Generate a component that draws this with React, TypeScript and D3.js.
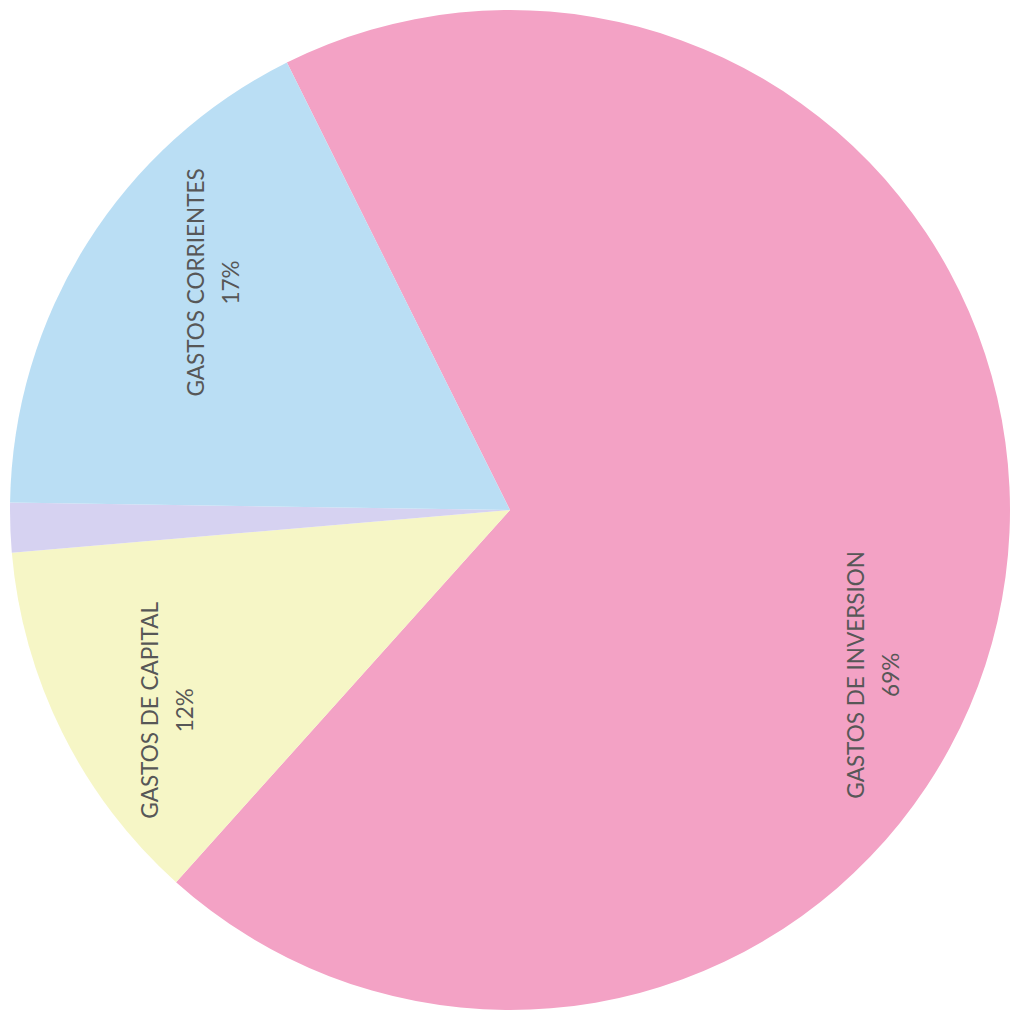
import React from "react";
import * as d3 from "d3";

// Budget breakdown by spending type (percent of total)
const categories = ["GASTOS DE INVERSION", "GASTOS DE CAPITAL", "OTROS", "GASTOS CORRIENTES"];
const values = [69.0, 12.0, 1.6, 17.4];
const colors = ["#F3A2C5", "#F6F6C6", "#D6D2F1", "#BADEF4"];
// which slices carry a label, and where the label sits relative to the slice middle
const showLabel = [true, true, false, true];
const labelAngleShift = [16.7, -3.8, 0, 5.3]; // degrees
const labelRadius = [399, 397, 0, 374];

const W = 1013;
const H = 1014;
const cx = 510;
const cy = 510;
const R = 500;
const startDeg = -26.5;

export default function App() {
  const total = d3.sum(values);
  const pie = d3
    .pie<number>()
    .sort(null)
    .value((d) => d)
    .startAngle((startDeg * Math.PI) / 180)
    .endAngle(((startDeg + 360) * Math.PI) / 180);
  const arcs = pie(values);
  const arcGen = d3.arc<d3.PieArcDatum<number>>().innerRadius(0).outerRadius(R);

  return (
    <svg
      width={W}
      height={H}
      style={{ position: "absolute", left: 0, top: 0, background: "#ffffff" }}
    >
      <g transform={`translate(${cx},${cy})`}>
        {arcs.map((a, i) => (
          <path key={categories[i]} d={arcGen(a) || ""} fill={colors[i]} />
        ))}
        {arcs.map((a, i) => {
          if (!showLabel[i]) return null;
          const mid = (a.startAngle + a.endAngle) / 2 + (labelAngleShift[i] * Math.PI) / 180;
          const x = Math.sin(mid) * labelRadius[i];
          const y = -Math.cos(mid) * labelRadius[i];
          const pct = Math.round((values[i] / total) * 100);
          return (
            <g key={"l" + i} transform={`translate(${x},${y}) rotate(-90)`}>
              <text
                textAnchor="middle"
                fontFamily="Lato, 'Open Sans', sans-serif"
                fontSize={22.5}
                fill="#575757"
              >
                <tspan x={0} y={-9}>{categories[i]}</tspan>
                <tspan x={0} y={26}>{pct + "%"}</tspan>
              </text>
            </g>
          );
        })}
      </g>
    </svg>
  );
}
